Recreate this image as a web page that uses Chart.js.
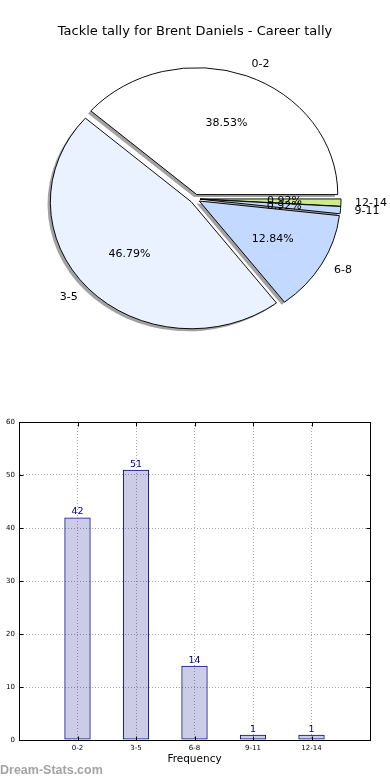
<!DOCTYPE html>
<html>
<head>
<meta charset="utf-8">
<script src="https://cdn.jsdelivr.net/npm/chart.js@4.4.1/dist/chart.umd.min.js"></script>
<style>
  html, body { margin: 0; padding: 0; background: #fff; }
  body { width: 390px; height: 780px; position: relative; overflow: hidden; }
  #pie-box { position: absolute; left: 0; top: 0; width: 390px; height: 350px; }
  #bar-box { position: absolute; left: 0; top: 400px; width: 390px; height: 380px; }
  #watermark {
    position: absolute; left: 0; top: 763px;
    font: bold 12.5px "Liberation Sans", Arial, sans-serif;
    line-height: 14px; color: #a3a3a3;
  }
</style>
</head>
<body>
<div id="pie-box"><canvas id="pie-chart"></canvas></div>
<div id="bar-box"><canvas id="bar-chart"></canvas></div>
<div id="watermark">Dream-Stats.com</div>
<script>
// DATA
const categories = ["0-2", "3-5", "6-8", "9-11", "12-14"];
const tallies = [42, 51, 14, 1, 1];
const yTicks = [0, 10, 20, 30, 40, 50, 60];

const sliceColors = ["#ffffff", "#eaf2ff", "#c3d9ff", "#c3d9ff", "#cdeb8b"];

Chart.defaults.font.family = "'DejaVu Sans'";
Chart.defaults.color = "#000";

// PIE
const total = tallies.reduce((a, b) => a + b, 0);
// the original goes counter-clockwise from 3 o'clock, chart.js goes clockwise -> reverse
const pieLabels = categories.slice().reverse();
const pieValues = tallies.slice().reverse();
const pieColors = sliceColors.slice().reverse();

const explode = 5;        // px, every slice pulled out
const squash = 0.9;       // pie is an ellipse in the original
const shadowShift = 2.8;

function pieCenter(chart) {
  const a = chart.chartArea;
  return { x: (a.left + a.right) / 2, y: (a.top + a.bottom) / 2 };
}

const piePlugin = {
  id: "pieStyle",
  afterUpdate(chart) {
    const c = pieCenter(chart);
    chart.getDatasetMeta(0).data.forEach(arc => {
      const mid = (arc.startAngle + arc.endAngle) / 2;
      arc.x = c.x + Math.cos(mid) * explode;
      arc.y = c.y + Math.sin(mid) * explode;
    });
  },
  beforeDatasetsDraw(chart) {
    const ctx = chart.ctx;
    const c = pieCenter(chart);
    ctx.save();
    ctx.translate(c.x, c.y);
    ctx.scale(1, squash);
    ctx.translate(-c.x, -c.y);
    // shadows first, behind all slices
    chart.getDatasetMeta(0).data.forEach(arc => {
      const opts = arc.options;
      arc.options = Object.create(opts, {
        backgroundColor: { value: "rgba(70,70,76,0.5)" },
        borderWidth: { value: 0 }
      });
      ctx.save();
      ctx.translate(-shadowShift, shadowShift);
      arc.draw(ctx);
      ctx.restore();
      arc.options = opts;
    });
  },
  afterDatasetsDraw(chart) {
    const ctx = chart.ctx;
    ctx.restore();
    const c = pieCenter(chart);
    const toY = (y) => c.y + (y - c.y) * squash;
    ctx.save();
    ctx.fillStyle = "#000";
    ctx.font = "11px 'DejaVu Sans'";
    ctx.textBaseline = "middle";
    chart.getDatasetMeta(0).data.forEach((arc, i) => {
      const mid = (arc.startAngle + arc.endAngle) / 2;
      const r = arc.outerRadius;
      const cos = Math.cos(mid), sin = Math.sin(mid);
      ctx.textAlign = cos >= 0 ? "left" : "right";
      ctx.fillText(pieLabels[i], arc.x + cos * r * 1.1, toY(arc.y + sin * r * 1.1));
      ctx.textAlign = "center";
      const pct = (pieValues[i] / total * 100).toFixed(2) + "%";
      ctx.fillText(pct, arc.x + cos * r * 0.6, toY(arc.y + sin * r * 0.6));
    });
    ctx.restore();
  }
};

new Chart(document.getElementById("pie-chart"), {
  type: "pie",
  data: {
    labels: pieLabels,
    datasets: [{
      data: pieValues,
      backgroundColor: pieColors,
      borderColor: "#000",
      borderWidth: 1,
      clip: false
    }]
  },
  options: {
    responsive: true,
    maintainAspectRatio: false,
    animation: false,
    events: [],
    rotation: 90,
    radius: 141,
    layout: { padding: 0 },
    plugins: {
      legend: { display: false },
      tooltip: { enabled: false },
      title: {
        display: true,
        text: "Tackle tally for Brent Daniels - Career tally",
        color: "#000",
        font: { size: 13, weight: "normal" },
        padding: { top: 24, bottom: 8 }
      }
    }
  },
  plugins: [piePlugin]
});

// BAR
const barPlugin = {
  id: "barExtras",
  afterDatasetsDraw(chart) {
    const ctx = chart.ctx;
    ctx.save();
    ctx.fillStyle = "#000080";
    ctx.font = "9.5px 'DejaVu Sans'";
    ctx.textAlign = "center";
    ctx.textBaseline = "alphabetic";
    chart.getDatasetMeta(0).data.forEach((bar, i) => {
      ctx.fillText(String(tallies[i]), bar.x, bar.y - 3);
    });
    ctx.restore();
  },
  afterDraw(chart) {
    const a = chart.chartArea;
    const ctx = chart.ctx;
    const xs = chart.scales.x, ys = chart.scales.y;
    ctx.save();
    ctx.strokeStyle = "#000";
    ctx.lineWidth = 1;
    const l = Math.round(a.left) + 0.5, t = Math.round(a.top) + 0.5;
    const r = Math.round(a.right) + 0.5, b = Math.round(a.bottom) + 0.5;
    ctx.strokeRect(l, t, r - l, b - t);
    // small inward tick marks like the original
    ctx.beginPath();
    categories.forEach((cat, i) => {
      const px = Math.round(xs.getPixelForValue(i)) + 0.5;
      ctx.moveTo(px, b); ctx.lineTo(px, b - 4);
      ctx.moveTo(px, t); ctx.lineTo(px, t + 4);
    });
    yTicks.forEach(v => {
      const py = Math.round(ys.getPixelForValue(v)) + 0.5;
      ctx.moveTo(l, py); ctx.lineTo(l + 4, py);
      ctx.moveTo(r, py); ctx.lineTo(r - 4, py);
    });
    ctx.stroke();
    ctx.restore();
  }
};

new Chart(document.getElementById("bar-chart"), {
  type: "bar",
  data: {
    datasets: [{
      data: tallies.map((v, i) => ({ x: i, y: v })),
      backgroundColor: "rgba(0,0,128,0.2)",
      borderColor: "#000080",
      borderWidth: 1,
      borderSkipped: false,
      barPercentage: 0.45,
      categoryPercentage: 1
    }]
  },
  options: {
    responsive: true,
    maintainAspectRatio: false,
    animation: false,
    events: [],
    layout: { padding: { top: 22, right: 20, left: 0, bottom: 0 } },
    plugins: { legend: { display: false }, tooltip: { enabled: false } },
    scales: {
      x: {
        type: "linear",
        min: -1,
        max: categories.length,
        offset: false,
        grid: {
          offset: false,
          drawTicks: false,
          color: c => (c.tick && c.tick.value >= 0 && c.tick.value < categories.length) ? "#a8a8a8" : "rgba(0,0,0,0)"
        },
        border: { color: "#000", dash: [1, 2] },
        ticks: {
          stepSize: 1,
          autoSkip: false,
          maxRotation: 0,
          padding: 4,
          color: "#000",
          font: { size: 7 },
          callback: v => categories[v] ?? ""
        },
        title: {
          display: true,
          text: "Frequency",
          color: "#000",
          font: { size: 10.5 },
          padding: { top: 0, bottom: 14 }
        },
        afterFit: s => { s.height = 40; }
      },
      y: {
        min: yTicks[0],
        max: yTicks[yTicks.length - 1],
        grid: {
          drawTicks: false,
          color: c => (c.tick && c.tick.value > yTicks[0] && c.tick.value < yTicks[yTicks.length - 1]) ? "#a8a8a8" : "rgba(0,0,0,0)"
        },
        border: { color: "#000", dash: [1, 2] },
        ticks: {
          stepSize: yTicks[1] - yTicks[0],
          padding: 4,
          color: "#000",
          font: { size: 7 }
        },
        afterFit: s => { s.width = 19; }
      }
    }
  },
  plugins: [barPlugin]
});
</script>
</body>
</html>
